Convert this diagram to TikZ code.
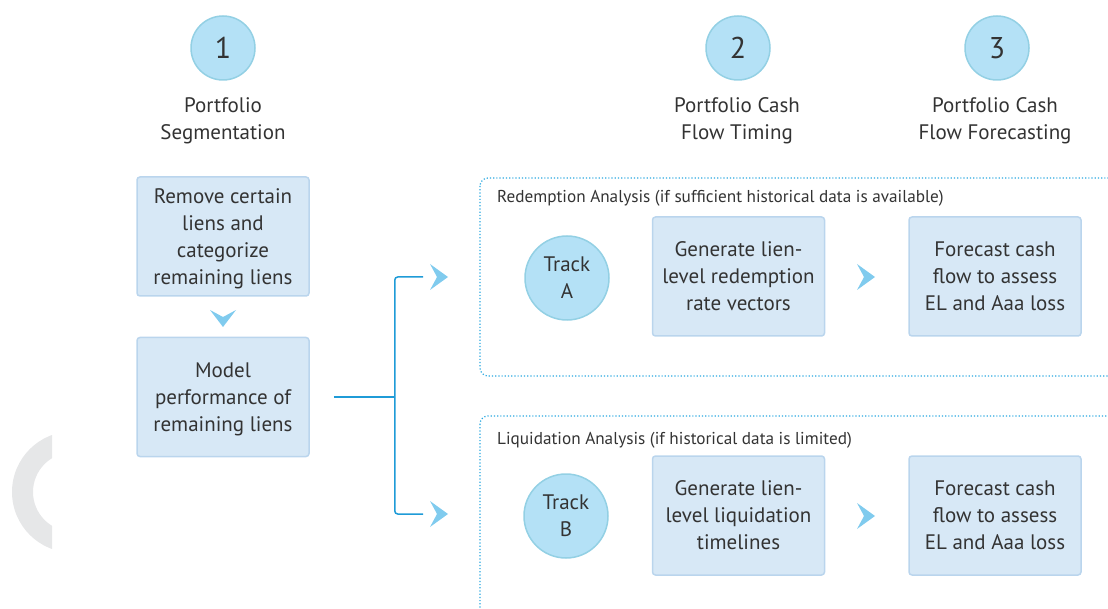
\documentclass[tikz,border=0pt]{standalone}
\usepackage{fontspec}
\setmainfont{PT Sans}
\usetikzlibrary{positioning,calc}
\definecolor{dotblue}{HTML}{2AA8E0}
\definecolor{linkblue}{HTML}{1F9BD7}
\definecolor{chevblue}{HTML}{80CBEE}
\definecolor{ballfill}{HTML}{B4E1F6}
\definecolor{balledge}{HTML}{93D0E4}
\definecolor{boxfill}{HTML}{D7E8F6}
\definecolor{boxedge}{HTML}{BAD5ED}
\definecolor{inkgrey}{HTML}{333333}
\definecolor{ringgrey}{HTML}{E6E7E8}
\tikzset{
  stepno/.style={circle, draw=balledge, line width=1.5pt, fill=ballfill, minimum size=64pt, inner sep=0pt, text=inkgrey, font=\fontsize{30}{32}\selectfont},
  track/.style={circle, draw=balledge, line width=1.5pt, fill=ballfill, minimum size=84pt, inner sep=0pt, align=center, text=inkgrey, font=\fontsize{21}{27}\selectfont},
  phase/.style={align=center, text=inkgrey, font=\fontsize{21}{27}\selectfont},
  taskbox/.style={rectangle, rounded corners=3pt, draw=boxedge, line width=1.5pt, fill=boxfill, minimum width=172pt, minimum height=119pt, inner sep=0pt, align=center, text depth=-1pt, text=inkgrey, font=\fontsize{21}{27}\selectfont},
  link/.style={draw=linkblue, line width=1.5pt},
  chev/.style={fill=chevblue},
  frame/.style={draw=dotblue, dotted, line width=1.2pt, rounded corners=8pt},
  framelabel/.style={anchor=base west, inner sep=0pt, text=inkgrey, font=\fontsize{17.2}{19}\selectfont}
}
\begin{document}
\begin{tikzpicture}[x=1pt,y=-1pt]
    \def\chevright{(-9,-13) -- (9,0) -- (-9,13) -- (-2,0) -- cycle}
    \def\chevdown{(-13,-8) -- (0,9) -- (13,-8) -- (0,-1) -- cycle}
    \useasboundingbox (0,0) rectangle (1108,609);
    \clip (0,0) rectangle (1108,609);
    \begin{scope}
	\clip (0,400) rectangle (52,600);
	\fill[ringgrey, even odd rule] (72.6,492) circle[radius=60.6pt] (72.6,492) circle[radius=39.6pt];
    \end{scope}

    \node[stepno] (s1) at (223,48) {1};
    \node[stepno] (s2) at (738,48) {2};
    \node[stepno] (s3) at (997,48) {3};
    \node[phase] (p1) at (223,121) {Portfolio\\Segmentation};
    \node[phase] (p2) at (737,121) {Portfolio Cash\\Flow Timing};
    \node[phase] (p3) at (995,121) {Portfolio Cash\\Flow Forecasting};

    \node[taskbox] (remove) at (223,236.5) {Remove certain\\liens and\\categorize\\remaining liens};
    \node[taskbox] (model) at (223,397) {Model\\performance of\\remaining liens};
	\fill[chev, shift={(223,318)}] \chevdown;

    \draw[frame] (480,178) rectangle (1140,376);
    \draw[frame] (480,416) rectangle (1140,640);
    \node[framelabel] (redlbl) at (497,203) {Redemption Analysis (if sufficient historical data is available)};
    \node[framelabel] (liqlbl) at (497,444) {Liquidation Analysis (if historical data is limited)};

    \node[track] (trackA) at (567,278) {Track\\A};
    \node[taskbox] (genA) at (738.5,276.5) {Generate lien-\\level redemption\\rate vectors};
    \node[taskbox] (fcA) at (995,276.5) {Forecast cash\\flow to assess\\EL and Aaa loss};
	\fill[chev, shift={(866,277)}] \chevright;

    \node[track] (trackB) at (566,516) {Track\\B};
    \node[taskbox] (genB) at (738.5,515.5) {Generate lien-\\level liquidation\\timelines};
    \node[taskbox] (fcB) at (995,515.5) {Forecast cash\\flow to assess\\EL and Aaa loss};
	\fill[chev, shift={(866,516)}] \chevright;

    \coordinate (split) at ([xshift=85pt]model.east);
    \coordinate (inA) at (423,277);
    \coordinate (inB) at (423,514);
    \draw[link] ([xshift=24pt]model.east) -- (split);
    \draw[link, rounded corners=3pt] (split) |- (inA);
    \draw[link, rounded corners=3pt] (split) |- (inB);
	\fill[chev, shift={(439,277)}] \chevright;
	\fill[chev, shift={(439,514)}] \chevright;
\end{tikzpicture}
\end{document}
